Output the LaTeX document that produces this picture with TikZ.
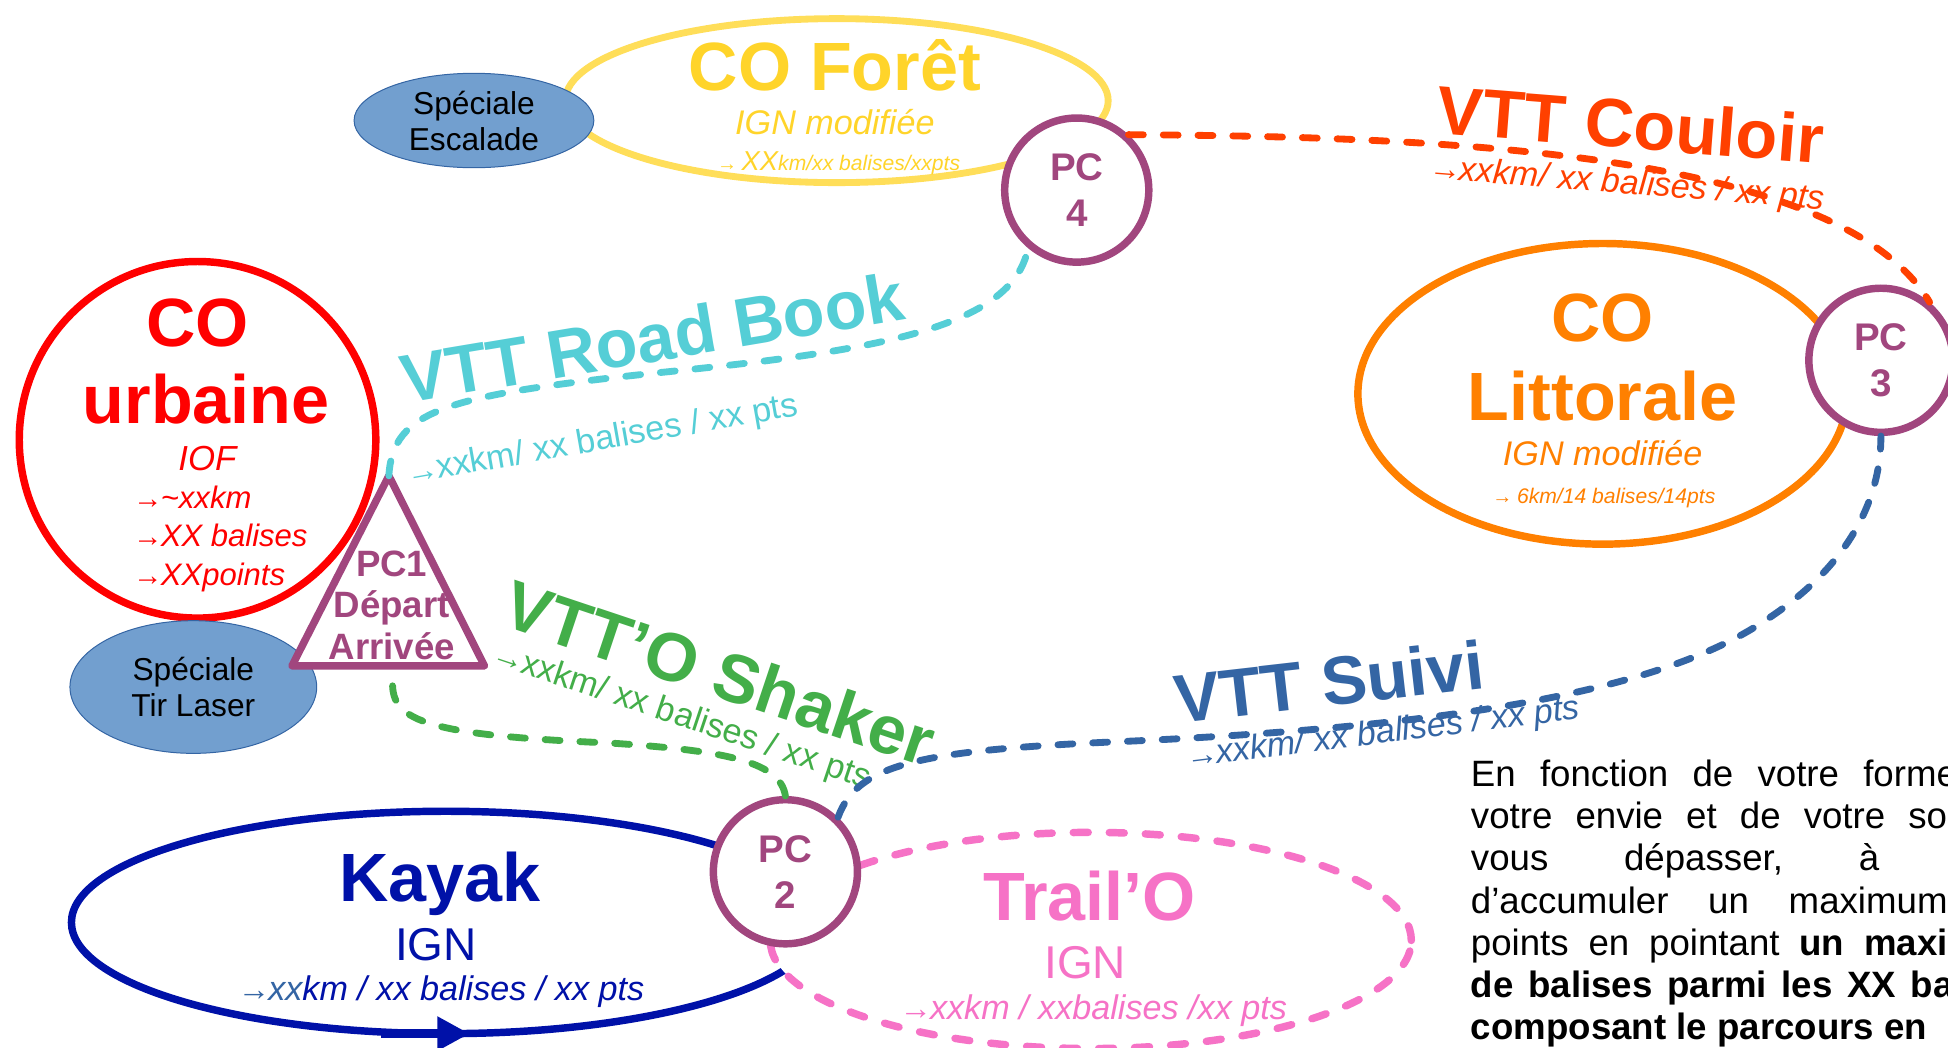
\documentclass[tikz,border=0pt]{standalone}
\usepackage{fontspec}
\setmainfont{Liberation Sans}
\usetikzlibrary{positioning}
\usetikzlibrary{calc}
\usetikzlibrary{shapes.geometric}
\usetikzlibrary{arrows.meta}

\definecolor{pcviolet}{HTML}{A1467E}
\definecolor{foretline}{HTML}{FFDE59}
\definecolor{foretgold}{HTML}{FFD42A}
\definecolor{couloirred}{HTML}{FF4000}
\definecolor{roadcyan}{HTML}{55CED6}
\definecolor{shakergreen}{HTML}{43AE49}
\definecolor{suiviblue}{HTML}{3465A4}
\definecolor{littoral}{HTML}{FF8000}
\definecolor{kayakblue}{HTML}{0011A8}
\definecolor{trailpink}{HTML}{F672C6}
\definecolor{specialfill}{HTML}{729FCF}

\newcommand{\fsz}[2]{\fontsize{#1}{#2}\selectfont}
\newcommand{\arr}{\scalebox{0.95}{→}\kern-0.06em}

\begin{document}
\begin{tikzpicture}[x=1pt, y=-1pt,
    pc/.style={circle, draw=pcviolet, line width=6pt, fill=white, text=pcviolet,
        font=\fsz{31}{37}\bfseries, align=center, minimum size=116pt, inner sep=0pt},
    zone/.style={ellipse, line width=6pt, inner sep=0pt},
    speciale/.style={ellipse, draw=suiviblue, fill=specialfill, line width=0.8pt,
        align=center, font=\fsz{25.5}{29}, inner sep=0pt},
    txt/.style={anchor=base, inner sep=0pt},
    title/.style={txt, font=\fsz{55}{62}\bfseries},
    info/.style={txt, font=\fsz{27.5}{32}},
    infoit/.style={txt, font=\fsz{27.5}{32}\itshape},
    rule/.style={anchor=base west, inner sep=0pt, font=\fsz{29.5}{34}},
    route/.style={line width=5.5pt, line cap=round, dash pattern=on 12pt off 16pt}]

\path[fill=white] (0,0) rectangle (1568,843);
\clip (0,0) rectangle (1568,843);

\coordinate (pc1top) at (313,383);
\coordinate (pc1left) at (235,536);
\coordinate (pc1right) at (390,536);
\coordinate (pc1bot) at (316,552);

% zones
\node[zone, draw=foretline, fill=white, line width=5.5pt, minimum width=437pt, minimum height=132pt] (foret) at (673.5,81) {};
\node[speciale, minimum width=193pt, minimum height=76pt] (escalade) at (381.5,97) {Spéciale\\Escalade};
\node[zone, draw=littoral, fill=white, minimum width=394pt, minimum height=242pt] (littorale) at (1290,317) {};
\node[circle, draw=red, fill=white, line width=6pt, minimum size=287pt, inner sep=0pt] (urbaine) at (159,354) {};
\node[speciale, minimum width=198.6pt, minimum height=106.8pt] (tirlaser) at (155.6,553) {Spéciale\\Tir Laser};
\node[zone, draw=kayakblue, minimum width=603pt, minimum height=179pt] (kayak) at (359,742.5) {};
\path[draw=kayakblue, line width=7pt, -{Triangle[length=26pt,width=26pt]}] ($(kayak.south)+(-52,-3)$) -- ($(kayak.south)+(19,-3)$);
\node[zone, draw=trailpink, fill=white, line cap=round, dash pattern=on 12pt off 17pt, minimum width=516pt, minimum height=174pt] (trailo) at (878,757) {};

\path[draw=pcviolet, fill=white, line width=6pt, line join=round] (pc1top) -- (pc1left) -- (pc1right) -- cycle;

% texts
\node[title, text=foretgold] (foretname) at (672,73) {CO Forêt};
\node[txt, text=foretgold, font=\fsz{27.5}{32}\itshape] (foretmap) at (672,108) {IGN modifiée};
\node[txt, text=foretgold, font=\fsz{17}{20}\itshape] (foretinfo) at (675,137) {\arr\ {\fsz{22}{24}XX}km/xx balises/xxpts};

\node[title, text=red] (urbco) at (159,279) {CO};
\node[title, text=red] (urbname) at (166,341) {urbaine};
\node[txt, text=red, font=\fsz{28}{32}\itshape] (urbmap) at (167,378.5) {IOF};
\node[rule, text=red, font=\fsz{25}{31}\itshape] (urbkm) at (107,409) {\arr\textasciitilde xxkm};
\node[rule, text=red, font=\fsz{25}{31}\itshape] (urbbal) at (107,440) {\arr XX balises};
\node[rule, text=red, font=\fsz{25}{31}\itshape] (urbpts) at (107,471) {\arr XXpoints};

\node[text=pcviolet, font=\fsz{29.5}{33.5}\bfseries, align=center, inner sep=0pt] (pc1) at (315.3,487) {PC1\\Départ\\Arrivée};

\node[title, text=littoral] (littco) at (1290,275) {CO};
\node[title, text=littoral] (littname) at (1290,338.6) {Littorale};
\node[txt, text=littoral, font=\fsz{27.5}{32}\itshape] (littmap) at (1290,375) {IGN modifiée};
\node[txt, text=littoral, font=\fsz{17}{20}\itshape] (littinfo) at (1291,405) {\arr\ 6km/14 balises/14pts};

\node[title, text=kayakblue] (kayakname) at (354,726) {Kayak};
\node[txt, text=kayakblue, font=\fsz{37}{42}] (kayakmap) at (351,773) {IGN};
\node[infoit, text=kayakblue] (kayakinfo) at (355,805) {\textcolor{suiviblue}{\arr xx}km / xx balises / xx pts};

\node[title, text=trailpink] (trailname) at (877,741) {Trail’O};
\node[txt, text=trailpink, font=\fsz{37}{42}] (trailmap) at (873.5,787.5) {IGN};
\node[infoit, text=trailpink] (trailinfo) at (880,821) {\arr xxkm / xxbalises /xx pts};

\node[title, text=couloirred, rotate=-4.5] (couloirname) at (1311,119.5) {VTT Couloir};
\node[infoit, text=couloirred, rotate=-4.5] (couloirinfo) at (1309,156) {\arr xxkm/ xx balises / xx pts};
\node[title, text=roadcyan, rotate=9.5] (roadname) at (528,291) {VTT Road Book};
\node[info, text=roadcyan, rotate=10] (roadinfo) at (486,362) {\arr xxkm/ xx balises / xx pts};
\node[title, text=shakergreen, rotate=-18.5] (shakername) at (573,560) {VTT’O Shaker};
\node[info, text=shakergreen, rotate=-18.5] (shakerinfo) at (546,584) {\arr xxkm/ xx balises / xx pts};
\node[title, text=suiviblue, rotate=6.5] (suiviname) at (1072,568) {VTT Suivi};
\node[infoit, text=suiviblue, rotate=7] (suiviinfo) at (1114,598) {\arr xxkm/ xx balises / xx pts};

\node[rule] (rule1) at (1183.8,633) {\spaceskip=19.5pt En fonction de votre forme};
\node[rule] (rule2) at (1183.8,667) {\spaceskip=18.6pt votre envie et de votre so};
\node[rule] (rule3) at (1183.8,701) {\spaceskip=61pt vous dépasser, à};
\node[rule] (rule4) at (1183.8,735) {\spaceskip=32pt d’accumuler un maximum};
\node[rule] (rule5) at (1183.8,769) {\spaceskip=16pt points en pointant \textbf{un maxi}};
\node[rule, font=\fsz{29.5}{34}\bfseries] (rule6) at (1183.8,803) {\spaceskip=11.8pt de balises parmi les XX ba};
\node[rule, font=\fsz{29.5}{34}\bfseries] (rule7) at (1183.8,837) {composant le parcours en};

% control points
\node[pc] (pc4) at (866.7,153) {PC\\4};
\node[pc] (pc3) at (1514,290) {PC\\3};
\node[pc] (pc2) at (632.2,701.7) {PC\\2};

% routes
\path[draw=couloirred, route] (pc4.47) .. controls (1150,110) and (1480,120) .. (pc3.50);
\path[draw=roadcyan, route] (pc1top) .. controls (316,330) and (360,318) .. (530,300) .. controls (700,283) and (815,265) .. (pc4.230);
\path[draw=shakergreen, route] (pc1bot) .. controls (317,580) and (345,592) .. (490,598) .. controls (580,604) and (628,612) .. (pc2.north);
\path[draw=suiviblue, route] (pc2.46) .. controls (690,615) and (740,604) .. (900,597) .. controls (1150,586) and (1330,560) .. (1420,500) .. controls (1490,455) and (1514,400) .. (pc3.south);

\end{tikzpicture}
\end{document}
